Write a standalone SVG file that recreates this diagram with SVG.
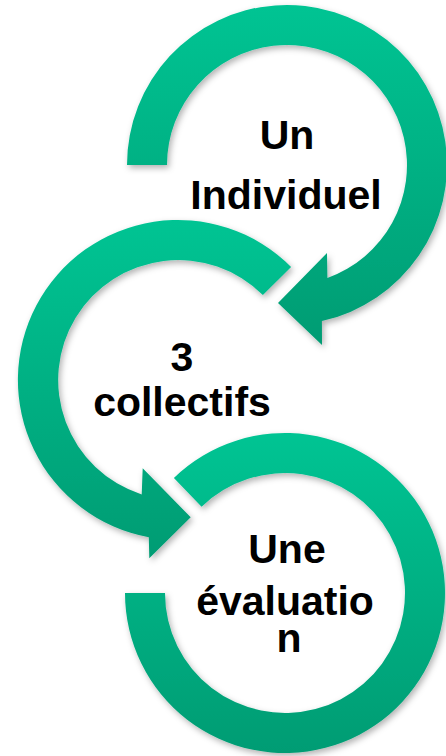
<svg xmlns="http://www.w3.org/2000/svg" width="446" height="756" viewBox="0 0 446 756">
  <defs>
    <linearGradient id="g" x1="0" y1="0" x2="0" y2="1">
      <stop offset="0" stop-color="#00C493"/>
      <stop offset="1" stop-color="#009C73"/>
    </linearGradient>
    <filter id="sh" x="-10%" y="-10%" width="125%" height="125%">
      <feDropShadow dx="2" dy="3" stdDeviation="3" flood-color="#000" flood-opacity="0.3"/>
    </filter>
  </defs>
  <style>
    .arrow { fill: url(#g); filter: url(#sh); }
    .lbl { font-family: "Liberation Sans", Arial, sans-serif; font-weight: bold; font-size: 41px; fill: #000; text-anchor: middle; }
  </style>
  <rect width="446" height="756" fill="#fff"/>
  <g id="connectors">
    <path id="arrow1" class="arrow" d="M127,165 A160,160 0 1 1 321.9,321.1 L322,345 L278,303 L327,253 L327.4,278 A120,120 0 1 0 167,165 Z"/>
    <path id="arrow2" class="arrow" d="M291.1,266.9 A160,160 0 1 0 148.8,537.3 L149.3,558.3 L190.7,517.3 L142.7,468.3 L141.7,494.4 A120,120 0 1 1 262.9,295.1 Z"/>
    <path id="arrow3" class="arrow" d="M173.9,477.9 A160,160 0 1 1 125,593 L165,593 A120,120 0 1 0 201.6,506.7 Z"/>
  </g>
  <g id="node1">
    <text class="lbl" x="287" y="149">Un</text>
    <text class="lbl" x="286" y="209">Individuel</text>
  </g>
  <g id="node2">
    <text class="lbl" x="182" y="371">3</text>
    <text class="lbl" x="182" y="416">collectifs</text>
  </g>
  <g id="node3">
    <text class="lbl" x="287" y="563">Une</text>
    <text class="lbl" x="285" y="615">évaluatio</text>
    <text class="lbl" x="289" y="652">n</text>
  </g>
</svg>
